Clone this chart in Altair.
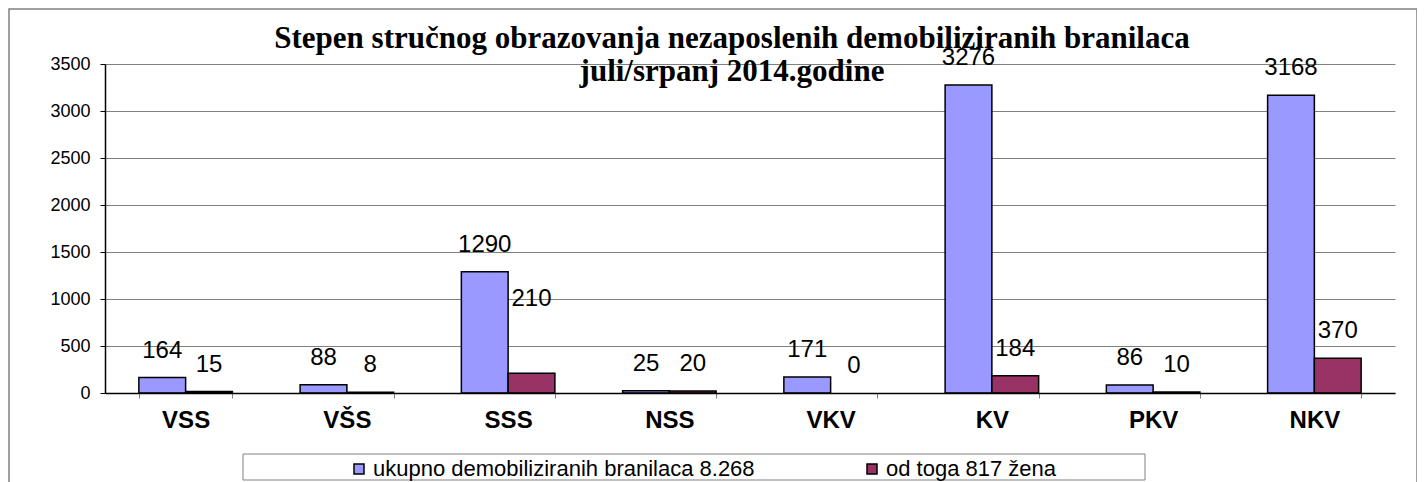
import altair as alt
import pandas as pd

categories = ["VSS", "VŠS", "SSS", "NSS", "VKV", "KV", "PKV", "NKV"]
total_values = [164, 88, 1290, 25, 171, 3276, 86, 3168]
women_values = [15, 8, 210, 20, 0, 184, 10, 370]
series_names = ["ukupno demobiliziranih branilaca 8.268", "od toga 817 žena"]
title_lines = ["Stepen stručnog obrazovanja nezaposlenih demobiliziranih branilaca",
               "juli/srpanj 2014.godine"]
y_ticks = [0, 500, 1000, 1500, 2000, 2500, 3000, 3500]
colors = ["#9999FF", "#993366"]

rows = []
for c, t, w in zip(categories, total_values, women_values):
    rows.append({"cat": c, "series": series_names[0], "value": t})
    rows.append({"cat": c, "series": series_names[1], "value": w})
df = pd.DataFrame(rows)

W, H = 1290, 329

x_enc = alt.X("cat:N", sort=categories,
              scale=alt.Scale(paddingInner=0.42, paddingOuter=0.21),
              axis=alt.Axis(title=None, labelAngle=0, labelFont="Liberation Sans",
                            labelFontSize=24, labelFontWeight="bold", labelColor="black",
                            labelPadding=10, domainColor="black", domainWidth=1.5,
                            tickColor="#808080", tickSize=5, tickBand="extent",
                            grid=False, zindex=1))
xo_enc = alt.XOffset("series:N", sort=series_names)
y_enc = alt.Y("value:Q", scale=alt.Scale(domain=[0, 3500], nice=False),
              axis=alt.Axis(title=None, values=y_ticks, format="d",
                            labelFont="Liberation Sans",
                            labelFontSize=18, labelColor="black", labelPadding=10,
                            domainColor="black", domainWidth=1.5,
                            tickColor="black", tickSize=5,
                            grid=True, gridColor="#808080", gridWidth=1))

bars = alt.Chart(df).transform_filter("datum.value > 0").mark_bar(
    stroke="black", strokeWidth=1.5).encode(
    x=x_enc, xOffset=xo_enc, y=y_enc,
    color=alt.Color("series:N", sort=series_names,
                    scale=alt.Scale(domain=series_names, range=colors),
                    legend=alt.Legend(title=None, orient="none", direction="horizontal",
                                      legendX=243, legendY=394, padding=0,
                                      symbolType="square", symbolSize=100,
                                      symbolStrokeColor="black", symbolStrokeWidth=1.5,
                                      labelFont="Liberation Sans", labelFontSize=22,
                                      labelColor="black", labelLimit=0, labelOffset=3,
                                      columnPadding=106))
)

moved = "datum.cat == 'SSS' && datum.series == '" + series_names[1] + "'"

labels = alt.Chart(df).transform_filter("!(" + moved + ")").mark_text(
    baseline="bottom", dy=-15, font="Liberation Sans",
    fontSize=24, color="black").encode(
    x=alt.X("cat:N", sort=categories), xOffset=xo_enc,
    y=alt.Y("value:Q"), text=alt.Text("value:Q")
)
labels_moved = alt.Chart(df).transform_filter(moved).mark_text(
    baseline="bottom", dy=-62, font="Liberation Sans",
    fontSize=24, color="black").encode(
    x=alt.X("cat:N", sort=categories), xOffset=xo_enc,
    y=alt.Y("value:Q"), text=alt.Text("value:Q")
)

title_df = pd.DataFrame({"line": title_lines, "idx": [0, 1]})
title1 = alt.Chart(title_df.iloc[[0]]).mark_text(
    font="Liberation Serif", fontSize=31, fontWeight="bold", color="black",
    align="center", baseline="alphabetic").encode(
    text="line:N", x=alt.value(627), y=alt.value(-16))
title2 = alt.Chart(title_df.iloc[[1]]).mark_text(
    font="Liberation Serif", fontSize=31, fontWeight="bold", color="black",
    align="center", baseline="alphabetic").encode(
    text="line:N", x=alt.value(627), y=alt.value(17))

frame_df = pd.DataFrame({"k": [0]})
outer = alt.Chart(frame_df).mark_rect(filled=False, stroke="#808080", strokeWidth=1.5).encode(
    x=alt.value(-96), x2=alt.value(1312), y=alt.value(-55), y2=alt.value(440))
legend_box = alt.Chart(frame_df).mark_rect(filled=False, stroke="#808080", strokeWidth=1).encode(
    x=alt.value(138), x2=alt.value(1040), y=alt.value(390), y2=alt.value(416))

chart = alt.layer(outer, legend_box, bars, labels, labels_moved, title1, title2).properties(
    width=W, height=H,
    autosize=alt.AutoSizeParams(type="none"),
    padding={"left": 97, "top": 56, "right": 22, "bottom": 110},
    background="white",
).configure_view(stroke=None)

chart.save("out.html", embed_options={"renderer": "svg", "actions": False})
